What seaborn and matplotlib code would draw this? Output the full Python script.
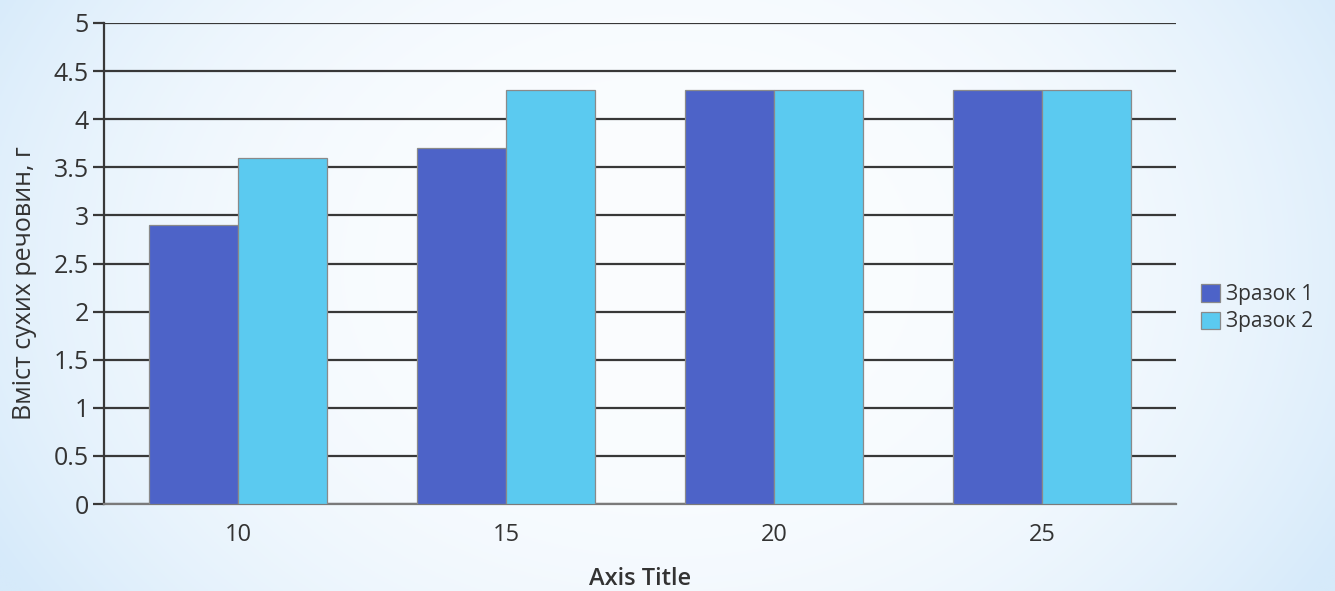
import numpy as np
import pandas as pd
import matplotlib
matplotlib.use("Agg")
import matplotlib.pyplot as plt
import seaborn as sns

# Data
categories = ["10", "15", "20", "25"]
series_names = ["Зразок 1", "Зразок 2"]
sample1 = [2.9, 3.7, 4.3, 4.3]
sample2 = [3.6, 4.3, 4.3, 4.3]
y_ticks = [0, 0.5, 1, 1.5, 2, 2.5, 3, 3.5, 4, 4.5, 5]
y_tick_labels = ["0", "0.5", "1", "1.5", "2", "2.5", "3", "3.5", "4", "4.5", "5"]

colors = ["#4d63c8", "#5bcaf0"]
text_color = "#333333"

df = pd.DataFrame({
    "x": categories * 2,
    "value": sample1 + sample2,
    "series": [series_names[0]] * len(categories) + [series_names[1]] * len(categories),
})

sns.set_style("white")
plt.rcParams["font.family"] = ["Open Sans", "DejaVu Sans"]

fig = plt.figure(figsize=(13.35, 5.91), dpi=100)

# Soft blue background wash
bg = fig.add_axes([0, 0, 1, 1], zorder=-10)
h, w = 300, 680
yy, xx = np.mgrid[0:1:h * 1j, 0:1:w * 1j]
f = np.clip(((xx - 0.5) / 0.5) ** 2 * 0.75 + ((yy - 0.45) / 0.55) ** 2 * 0.3, 0, 1) ** 1.3
edge = np.array([214, 234, 250]) / 255.0
center = np.array([251, 253, 255]) / 255.0
img = center[None, None, :] * (1 - f[..., None]) + edge[None, None, :] * f[..., None]
bg.imshow(img, aspect="auto", extent=[0, 1, 0, 1], origin="upper")
bg.set_axis_off()

ax = fig.add_axes([104 / 1335, 1 - 504 / 591, (1176 - 104) / 1335, (504 - 23) / 591])
ax.patch.set_alpha(0)

sns.barplot(
    data=df, x="x", y="value", hue="series", palette=colors,
    width=0.664, edgecolor="#8a8a8a", linewidth=0.9, saturation=1,
    ax=ax, zorder=3, legend=True,
)

ax.set_ylim(0, 5)
ax.set_yticks(y_ticks)
ax.set_yticklabels(y_tick_labels)
ax.yaxis.grid(True, color="#383838", linewidth=1.6, zorder=0)
ax.set_axisbelow(True)

for s in ["top", "right"]:
    ax.spines[s].set_visible(False)
ax.spines["left"].set_color("#383838")
ax.spines["left"].set_linewidth(1.6)
ax.spines["bottom"].set_color("#7a7a7a")
ax.spines["bottom"].set_linewidth(1.6)

ax.tick_params(axis="y", length=8, width=1.6, color="#383838", labelsize=18,
               labelcolor=text_color, pad=3, left=True)
ax.tick_params(axis="x", length=0, labelsize=17, labelcolor=text_color, pad=14)

ax.set_xlabel("Axis Title", fontsize=17, fontweight="semibold", color=text_color, labelpad=14)
ax.set_ylabel("Вміст сухих речовин, г", fontsize=18, color=text_color)
ax.yaxis.set_label_coords(-0.0625, 0.46)

leg = ax.legend(
    loc="center left", bbox_to_anchor=(1.016, 0.407), frameon=False,
    fontsize=15, handlelength=0.9, handleheight=0.9, handletextpad=0.3,
    labelspacing=0.3, borderaxespad=0,
)
for t in leg.get_texts():
    t.set_color(text_color)

fig.savefig("out.png", dpi=100)
